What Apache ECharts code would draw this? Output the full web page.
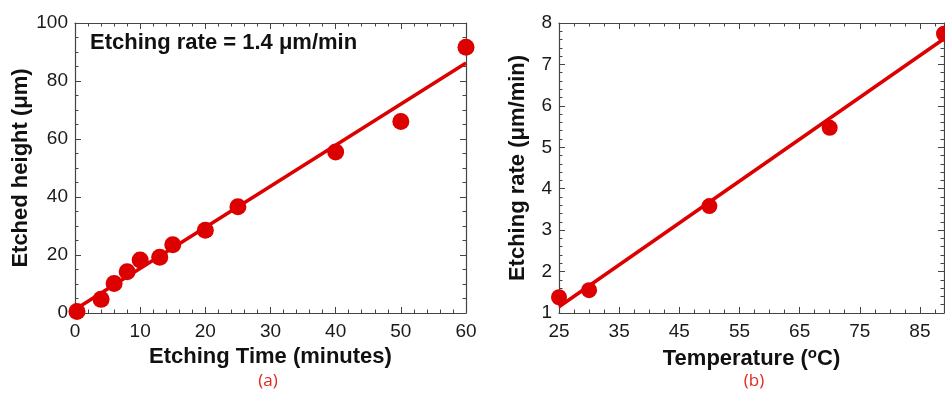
<!DOCTYPE html>
<html>
<head>
<meta charset="utf-8">
<script src="https://cdn.jsdelivr.net/npm/echarts@6/dist/echarts.min.js"></script>
<style>
  html, body { margin: 0; padding: 0; background: #fff; }
  #chart { width: 945px; height: 393px; }
</style>
</head>
<body>
<div id="chart"></div>
<script>
// (a) etched height vs etching time
const timeMin = [0.3, 4, 6, 8, 10, 13, 15, 20, 25, 40, 50, 60];
const heightUm = [0.5, 4.7, 10.2, 14.2, 18.3, 19.2, 23.5, 28.5, 36.6, 55.5, 66, 91.6];
const fitA = [[0, 1.2], [60, 86.2]];

// (b) etching rate vs temperature
const tempC = [25, 30, 50, 70, 89];
const rateUm = [1.38, 1.55, 3.58, 5.47, 7.74];
const fitB = [[25, 1.15], [89, 7.62]];

const RED = "#dc0000";
const AXIS = "#444";
const FONT = "'Liberation Sans', Arial, sans-serif";

const chart = echarts.init(document.getElementById("chart"), null, { renderer: "canvas" });

const nameStyle = {
  color: "#111", fontSize: 22, fontWeight: "bold", fontFamily: FONT,
  rich: {
    sup: {
      color: "#111", fontSize: 15, fontWeight: "bold", fontFamily: FONT,
      verticalAlign: "bottom", padding: [0, 0, 10, 0],
    },
  },
};

// main axis + mirrored axis (ticks only) on the opposite side
function xAxes(grid, min, max, interval, minorSplit, name) {
  const common = {
    type: "value", gridIndex: grid, min, max, interval,
    axisLine: { show: true, onZero: false, lineStyle: { color: AXIS, width: 1.2 } },
    axisTick: { inside: true, length: 6, lineStyle: { color: AXIS } },
    minorTick: { show: true, splitNumber: minorSplit, length: 3.5, lineStyle: { color: AXIS } },
    splitLine: { show: false },
  };
  return [
    {
      ...common,
      position: "bottom",
      name,
      nameLocation: "middle",
      nameGap: 33,
      nameTextStyle: nameStyle,
      axisLabel: { color: "#1a1a1a", fontSize: 19, margin: 9, fontFamily: FONT, showMaxLabel: max % interval === min % interval },
    },
    { ...common, position: "top", axisLabel: { show: false } },
  ];
}

function yAxes(grid, min, max, interval, minorSplit, name, gap) {
  const common = {
    type: "value", gridIndex: grid, min, max, interval,
    axisLine: { show: true, onZero: false, lineStyle: { color: AXIS, width: 1.2 } },
    axisTick: { inside: true, length: 6, lineStyle: { color: AXIS } },
    minorTick: { show: true, splitNumber: minorSplit, length: 3.5, lineStyle: { color: AXIS } },
    splitLine: { show: false },
  };
  return [
    {
      ...common,
      position: "left",
      name,
      nameLocation: "middle",
      nameGap: gap,
      nameTextStyle: nameStyle,
      axisLabel: { color: "#1a1a1a", fontSize: 19, margin: 7, fontFamily: FONT },
    },
    { ...common, position: "right", axisLabel: { show: false } },
  ];
}

const toPairs = (xs, ys) => xs.map((x, i) => [x, ys[i]]);

chart.setOption({
  animation: false,
  backgroundColor: "#fff",
  grid: [
    { left: 75, right: 479, top: 23, bottom: 80 },
    { left: 559, right: 1, top: 23, bottom: 80 },
  ],
  xAxis: [
    ...xAxes(0, 0, 60, 10, 5, "Etching Time (minutes)"),
    ...xAxes(1, 25, 89, 10, 4, "Temperature ({sup|o}C)"),
  ],
  yAxis: [
    ...yAxes(0, 0, 100, 20, 4, "Etched height (\u03BCm)", 42),
    ...yAxes(1, 1, 8, 1, 5, "Etching rate (\u03BCm/min)", 30),
  ],
  series: [
    {
      type: "line", xAxisIndex: 0, yAxisIndex: 0, data: fitA,
      symbol: "none", lineStyle: { color: RED, width: 3.5 }, z: 2,
    },
    {
      type: "scatter", xAxisIndex: 0, yAxisIndex: 0, data: toPairs(timeMin, heightUm),
      symbolSize: 17, itemStyle: { color: RED, opacity: 1 }, clip: false, z: 3,
    },
    {
      type: "line", xAxisIndex: 2, yAxisIndex: 2, data: fitB,
      symbol: "none", lineStyle: { color: RED, width: 3.5 }, z: 2,
    },
    {
      type: "scatter", xAxisIndex: 2, yAxisIndex: 2, data: toPairs(tempC, rateUm),
      symbolSize: 16, itemStyle: { color: RED, opacity: 1 }, clip: false, z: 3,
    },
  ],
  graphic: [
    {
      type: "text", left: 90, top: 32,
      style: { text: "Etching rate = 1.4 \u03BCm/min", fill: "#111", font: "bold 22px " + FONT },
    },
    {
      type: "text", x: 268, y: 381,
      style: { text: "(a)", fill: "#e3261c", font: "17px 'Open Sans', sans-serif", align: "center", verticalAlign: "middle" },
    },
    {
      type: "text", x: 754, y: 381,
      style: { text: "(b)", fill: "#e3261c", font: "17px 'Open Sans', sans-serif", align: "center", verticalAlign: "middle" },
    },
  ],
});
</script>
</body>
</html>
